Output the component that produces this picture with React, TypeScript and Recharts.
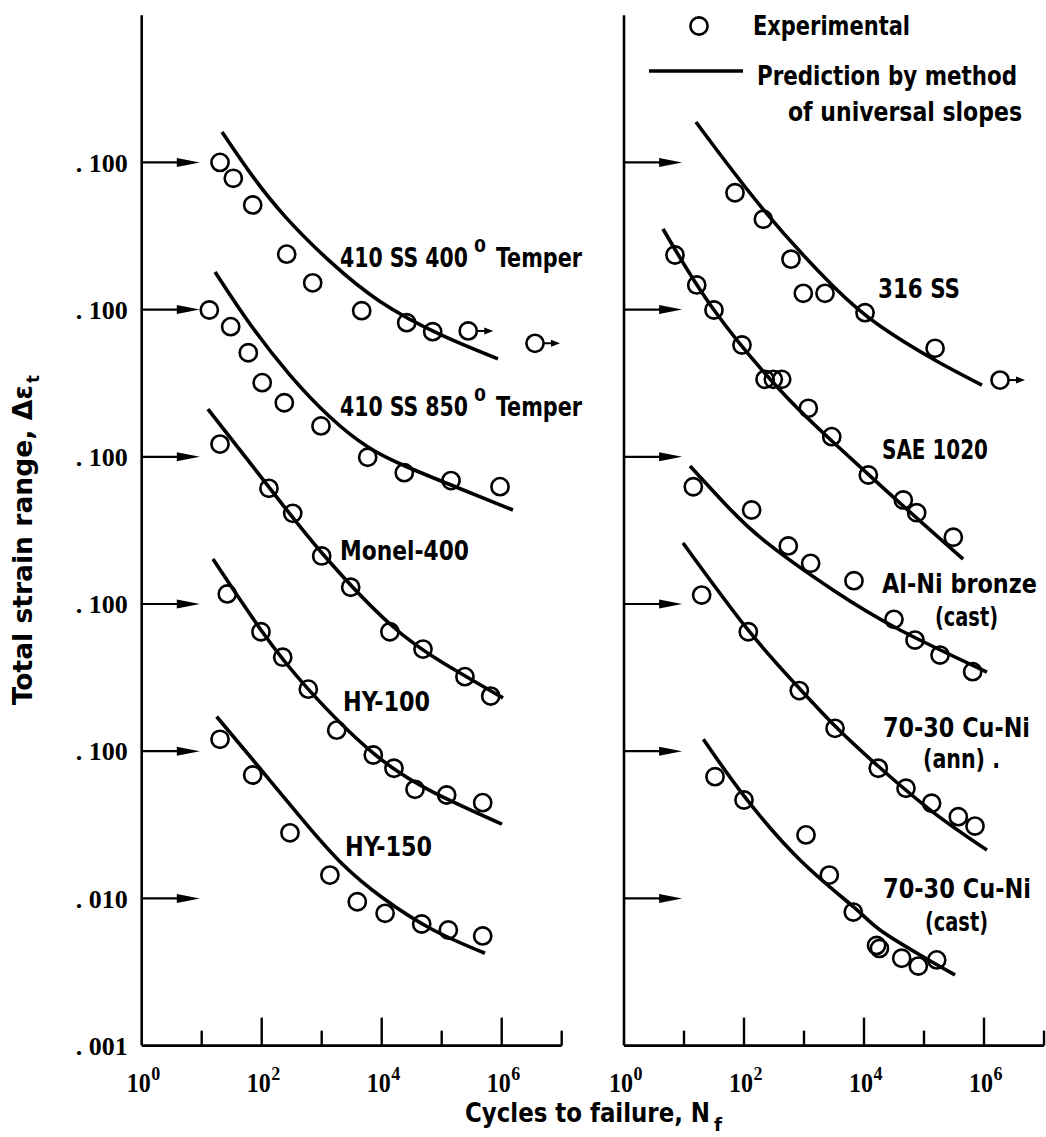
import React from "react";
import { ComposedChart, Line, Scatter, XAxis, YAxis, ReferenceLine } from "recharts";

type Pair = [number, number];

// [cycles to failure N_f, total strain range]
// left panel
const SS400_TEST: Pair[] = [[20.2, 0.1], [33.6, 0.078], [70.8, 0.0514], [261, 0.0238], [708, 0.0152], [4640, 0.00983], [26100, 0.00815], [70800, 0.00708]];
const SS400_RUNOUT: Pair[] = [[277000, 0.00716], [3590000, 0.0059]];
const SS400_PRED: Pair[] = [[21.8, 0.1609], [63.8, 0.0852], [244, 0.043], [1375, 0.02125], [9370, 0.01137], [93700, 0.00679], [867000, 0.00463]];

const SS850_TEST: Pair[] = [[13.4, 0.0994], [30.4, 0.0766], [59.8, 0.0509], [102, 0.0319], [238, 0.0233], [973, 0.0162], [5840, 0.00993], [23800, 0.0078], [143000, 0.00689], [937000, 0.00627]];
const SS850_PRED: Pair[] = [[16.7, 0.18], [63.8, 0.0798], [296, 0.0359], [1375, 0.01864], [5910, 0.01166], [24500, 0.00866], [143000, 0.00643], [1540000, 0.00435]];

const MONEL_TEST: Pair[] = [[20.2, 0.122], [132, 0.0611], [329, 0.0413], [1000, 0.0212], [3040, 0.013], [13700, 0.00648], [48800, 0.00494], [244000, 0.00321], [656000, 0.00237]];
const MONEL_PRED: Pair[] = [[12.7, 0.211], [132, 0.0623], [1010, 0.0222], [13700, 0.00731], [113000, 0.00391], [1050000, 0.0023]];

const HY100_TEST: Pair[] = [[26.7, 0.117], [97.3, 0.0648], [224, 0.0435], [598, 0.0264], [1780, 0.0139], [7240, 0.00942], [16000, 0.00766], [35900, 0.00551], [121000, 0.00504], [482000, 0.00447]];
const HY100_PRED: Pair[] = [[15.4, 0.202], [97.3, 0.0666], [591, 0.0265], [7160, 0.00973], [71600, 0.00528], [1010000, 0.0032]];

const HY150_TEST: Pair[] = [[20.2, 0.1205], [70.8, 0.0689], [296, 0.0279], [1370, 0.0144], [3920, 0.00949], [11400, 0.00792], [46400, 0.0067], [129000, 0.0061], [482000, 0.00556]];
const HY150_PRED: Pair[] = [[17.8, 0.1715], [86.7, 0.0793], [435, 0.0359], [2020, 0.01775], [10600, 0.01002], [72400, 0.0061], [527000, 0.00424]];

// right panel
const SS316_TEST: Pair[] = [[70.8, 0.0622], [210, 0.0411], [607, 0.022], [973, 0.0129], [2240, 0.0129], [10400, 0.00953], [153000, 0.00546]];
const SS316_RUNOUT: Pair[] = [[1850000, 0.00332]];
const SS316_PRED: Pair[] = [[15.8, 0.188], [207, 0.0482], [3040, 0.01446], [18500, 0.00774], [141000, 0.00462], [926000, 0.00307]];

const SAE_TEST: Pair[] = [[7.08, 0.235], [16.3, 0.147], [31.6, 0.0994], [92.6, 0.0575], [224, 0.0336], [308, 0.0336], [425, 0.0336], [1180, 0.02136], [2900, 0.0137], [11800, 0.00752], [45200, 0.00509], [75500, 0.00417], [308000, 0.00284]];
const SAE_PRED: Pair[] = [[4.47, 0.353], [31.6, 0.0994], [398, 0.0284], [3040, 0.0126], [39800, 0.00485], [447000, 0.00202]];

const ALNI_TEST: Pair[] = [[14.3, 0.0626], [134, 0.0435], [547, 0.0248], [1290, 0.0189], [6810, 0.0144], [31600, 0.00787], [70800, 0.00569], [185000, 0.0045], [648000, 0.00347]];
const ALNI_PRED: Pair[] = [[12.6, 0.0866], [54.1, 0.0456], [242, 0.026], [3040, 0.01245], [39800, 0.00666], [1120000, 0.00345]];

const CUNI_ANN_TEST: Pair[] = [[19.7, 0.115], [118, 0.0648], [835, 0.0258], [3290, 0.0143], [17300, 0.00766], [50100, 0.0056], [134000, 0.00443], [373000, 0.00359], [708000, 0.0031]];
const CUNI_ANN_PRED: Pair[] = [[9.62, 0.26], [117, 0.0666], [825, 0.0269], [3290, 0.01483], [17100, 0.00793], [141000, 0.00386], [1120000, 0.00213]];

const CUNI_CAST_TEST: Pair[] = [[32.9, 0.0671], [100, 0.0466], [1080, 0.027], [2640, 0.0144], [6630, 0.00808], [16200, 0.00479], [18100, 0.00457], [42500, 0.00392], [80400, 0.00347], [163000, 0.00382]];
const CUNI_CAST_PRED: Pair[] = [[21, 0.1205], [100, 0.0497], [858, 0.01824], [6630, 0.00878], [18500, 0.0061], [85800, 0.00413], [329000, 0.00302]];

// every curve is lifted this many decades so all five share one axis
const SHIFTS = [4, 3, 2, 1, 0];

const X_TICKS = [1, 10, 100, 1e3, 1e4, 1e5, 1e6, 1e7];
const Y_TICKS = [1e-3, 1e-2, 1e-1, 1, 10, 100, 1000];
const ARROW_LEVELS = [1000, 100, 10, 1, 0.1, 0.01];
const ARROW_TIP = 9.3;

type Mat = { test: Pair[]; runout?: Pair[]; pred: Pair[] };
const LEFT: Mat[] = [
  { test: SS400_TEST, runout: SS400_RUNOUT, pred: SS400_PRED },
  { test: SS850_TEST, pred: SS850_PRED },
  { test: MONEL_TEST, pred: MONEL_PRED },
  { test: HY100_TEST, pred: HY100_PRED },
  { test: HY150_TEST, pred: HY150_PRED },
];
const RIGHT: Mat[] = [
  { test: SS316_TEST, runout: SS316_RUNOUT, pred: SS316_PRED },
  { test: SAE_TEST, pred: SAE_PRED },
  { test: ALNI_TEST, pred: ALNI_PRED },
  { test: CUNI_ANN_TEST, pred: CUNI_ANN_PRED },
  { test: CUNI_CAST_TEST, pred: CUNI_CAST_PRED },
];

const SANS = "'DejaVu Sans Condensed', 'Liberation Sans Narrow', 'DejaVu Sans', sans-serif";
const SERIF = "'Liberation Serif', 'DejaVu Serif', serif";

const toPts = (rows: Pair[], shift: number) =>
  rows.map(([n, s]) => ({ n, v: s * Math.pow(10, shift) }));

const dot = (p: any) => (
  <circle cx={p.cx} cy={p.cy} r={8.6} fill="none" stroke="#000" strokeWidth={2.6} />
);

const runoutDot = (p: any) => (
  <g>
    <circle cx={p.cx} cy={p.cy} r={8.6} fill="none" stroke="#000" strokeWidth={2.6} />
    <line x1={p.cx + 9} y1={p.cy} x2={p.cx + 17} y2={p.cy} stroke="#000" strokeWidth={2} />
    <polygon points={`${p.cx + 25},${p.cy} ${p.cx + 16},${p.cy - 3.5} ${p.cx + 16},${p.cy + 3.5}`} fill="#000" />
  </g>
);

const arrowShape = (p: any) => (
  <g>
    <line x1={p.x1} y1={p.y1} x2={p.x2 - 12} y2={p.y2} stroke="#000" strokeWidth={2.2} />
    <polygon points={`${p.x2},${p.y2} ${p.x2 - 23},${p.y2 - 4.5} ${p.x2 - 23},${p.y2 + 4.5}`} fill="#000" />
  </g>
);

function XTick(props: any) {
  const { x, y, payload } = props;
  const e = Math.round(Math.log10(payload.value));
  const h = e === 0 ? 0 : e % 2 === 0 ? 28 : 15;
  return (
    <g>
      {h > 0 && <line x1={x} y1={y} x2={x} y2={y - h} stroke="#000" strokeWidth={2.4} />}
      {e % 2 === 0 && e < 7 && (
        <g fontFamily={SERIF} fontWeight={700} fill="#000">
          <text x={x + 9} y={y + 46} fontSize={27} textAnchor="end" textLength={24} lengthAdjust="spacingAndGlyphs">10</text>
          <text x={x + 9.5} y={y + 34} fontSize={18}>{e}</text>
        </g>
      )}
    </g>
  );
}

const yLabel = (v: number) => (v < 0.005 ? ". 001" : v < 0.05 ? ". 010" : ". 100");

function Panel({ mats, left, width, margin, yWidth, labels }: any) {
  return (
    <div style={{ position: "absolute", left, top: 0 }}>
      <ComposedChart width={width} height={1137} margin={margin}>
        <XAxis
          dataKey="n"
          type="number"
          scale="log"
          domain={[1, 1e7]}
          ticks={X_TICKS}
          interval={0}
          allowDataOverflow
          height={60}
          tickLine={false}
          tickSize={0}
          tickMargin={0}
          axisLine={{ stroke: "#000", strokeWidth: 2.6 }}
          tick={(p: any) => <XTick {...p} />}
        />
        <YAxis
          dataKey="v"
          type="number"
          scale="log"
          domain={[1e-3, 1e4]}
          ticks={Y_TICKS}
          interval={0}
          allowDataOverflow
          width={yWidth}
          tickLine={false}
          tickSize={0}
          tickMargin={14}
          axisLine={{ stroke: "#000", strokeWidth: 2.6 }}
          tickFormatter={yLabel}
          tick={labels ? { fill: "#000", fontSize: 26, fontFamily: SERIF, fontWeight: 700 } : false}
        />
        {ARROW_LEVELS.map((l) => (
          <ReferenceLine key={l} segment={[{ x: 1, y: l }, { x: ARROW_TIP, y: l }]} shape={arrowShape} />
        ))}
        {mats.map((m: Mat, i: number) => (
          <Line
            key={"p" + i}
            data={toPts(m.pred, SHIFTS[i])}
            dataKey="v"
            type="natural"
            stroke="#000"
            strokeWidth={3.6}
            dot={false}
            activeDot={false}
            isAnimationActive={false}
          />
        ))}
        {mats.map((m: Mat, i: number) => (
          <Scatter key={"t" + i} data={toPts(m.test, SHIFTS[i])} dataKey="v" shape={dot} isAnimationActive={false} />
        ))}
        {mats.map((m: Mat, i: number) =>
          m.runout ? (
            <Scatter key={"r" + i} data={toPts(m.runout, SHIFTS[i])} dataKey="v" shape={runoutDot} isAnimationActive={false} />
          ) : null
        )}
      </ComposedChart>
    </div>
  );
}

function T({ x, y, w, size = 26, children }: any) {
  return (
    <text x={x} y={y} textLength={w} lengthAdjust="spacingAndGlyphs" fontFamily={SANS} fontSize={size} fontWeight="bold" fill="#000">
      {children}
    </text>
  );
}

export default function App() {
  return (
    <div style={{ position: "absolute", left: 0, top: 0, width: 1046, height: 1137, background: "#fff", overflow: "hidden" }}>
      <Panel mats={LEFT} left={0} width={600} margin={{ top: 15.2, right: 38.3, bottom: 31.4, left: 81.7 }} yWidth={60} labels />
      <Panel mats={RIGHT} left={560} width={486} margin={{ top: 15.2, right: 2, bottom: 31.4, left: 54 }} yWidth={10} labels={false} />
      <svg width={1046} height={1137} style={{ position: "absolute", left: 0, top: 0, pointerEvents: "none" }}>
        {/* legend */}
        <circle cx={699} cy={26} r={8.6} fill="none" stroke="#000" strokeWidth={2.6} />
        <T x={753} y={35} w={157}>Experimental</T>
        <line x1={649} y1={71} x2={743} y2={71} stroke="#000" strokeWidth={3.6} />
        <T x={757} y={85} w={260}>Prediction by method</T>
        <T x={788} y={121} w={234}>of universal slopes</T>

        {/* left panel curve names */}
        <T x={340} y={267} w={128}>410 SS 400</T>
        <T x={474} y={252} w={12} size={17}>0</T>
        <T x={496} y={267} w={86}>Temper</T>
        <T x={340} y={416} w={128}>410 SS 850</T>
        <T x={474} y={401} w={12} size={17}>0</T>
        <T x={496} y={416} w={86}>Temper</T>
        <T x={340} y={560} w={129}>Monel-400</T>
        <T x={343} y={711} w={87}>HY-100</T>
        <T x={345} y={856} w={87}>HY-150</T>

        {/* right panel curve names */}
        <T x={878} y={298} w={82}>316 SS</T>
        <T x={882} y={459} w={106}>SAE 1020</T>
        <T x={882} y={593} w={155}>Al-Ni bronze</T>
        <T x={935} y={626} w={63}>(cast)</T>
        <T x={883} y={737} w={147}>70-30 Cu-Ni</T>
        <T x={923} y={768} w={77}>(ann) .</T>
        <T x={883} y={898} w={148}>70-30 Cu-Ni</T>
        <T x={925} y={931} w={63}>(cast)</T>

        {/* axis titles */}
        <T x={465} y={1122} w={245}>Cycles to failure, N</T>
        <T x={714} y={1131} w={8} size={17}>f</T>
        <g transform="rotate(-90)">
          <T x={-705} y={32} w={320}>Total strain range, Δε</T>
          <T x={-383} y={39} w={8} size={17}>t</T>
        </g>
      </svg>
    </div>
  );
}
